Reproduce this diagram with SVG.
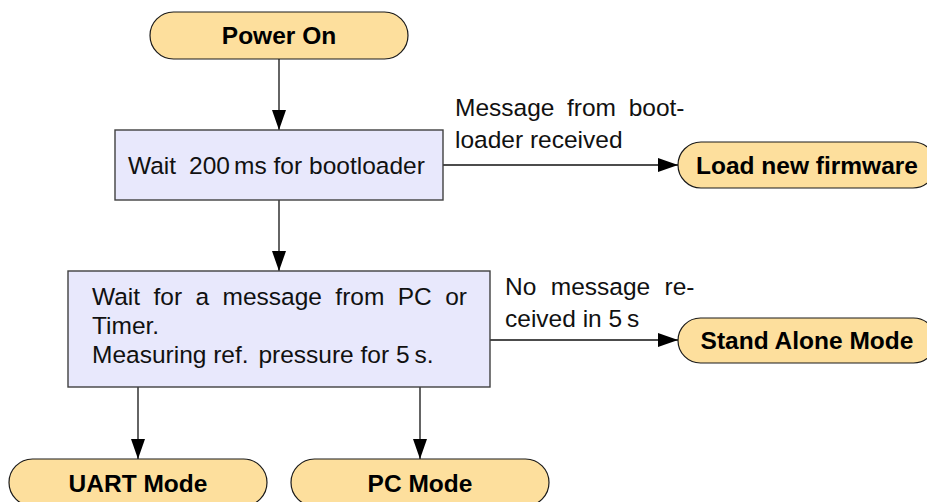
<svg xmlns="http://www.w3.org/2000/svg" width="927" height="502" viewBox="0 0 927 502">
  <style>
    .term { fill: #FDDF9D; stroke: #1a1a1a; stroke-width: 1.2; }
    .proc { fill: #E8E8FC; stroke: #404040; stroke-width: 1.4; }
    .bold { font-family: "Liberation Sans", Arial, sans-serif; font-size: 24.5px; font-weight: bold; fill: #000; text-anchor: middle; }
    .txt { font-family: "Liberation Sans", Arial, sans-serif; font-size: 24.5px; fill: #111; }
    .edge { fill: none; stroke: #111; stroke-width: 1.3; }
  </style>
  <defs>
    <marker id="arrow" markerUnits="userSpaceOnUse" markerWidth="20" markerHeight="14" refX="20" refY="7" orient="auto">
      <path d="M0,0 L20,7 L0,14 z" fill="#000"/>
    </marker>
  </defs>

  <rect width="927" height="502" fill="#fff"/>

  <!-- connectors -->
  <g id="connectors">
    <line class="edge" x1="279" y1="59" x2="279" y2="130" marker-end="url(#arrow)"/>
    <line class="edge" x1="279" y1="200" x2="279" y2="271" marker-end="url(#arrow)"/>
    <line class="edge" x1="443" y1="165" x2="678" y2="165" marker-end="url(#arrow)"/>
    <line class="edge" x1="490" y1="340" x2="678" y2="340" marker-end="url(#arrow)"/>
    <line class="edge" x1="138" y1="387" x2="138" y2="459" marker-end="url(#arrow)"/>
    <line class="edge" x1="420" y1="387" x2="420" y2="459" marker-end="url(#arrow)"/>
    <text class="txt"><tspan x="455" y="116" word-spacing="5.8">Message from boot-</tspan><tspan x="455" y="148">loader received</tspan></text>
    <text class="txt"><tspan x="505" y="295" word-spacing="7.6">No message re-</tspan><tspan x="505" y="327">ceived in 5<tspan dx="-2"> </tspan>s</tspan></text>
  </g>

  <g id="power-on">
    <rect class="term" x="150" y="12" width="258" height="47" rx="23.5"/>
    <text class="bold" x="279" y="44">Power On</text>
  </g>

  <g id="wait-bootloader">
    <rect class="proc" x="115" y="130" width="328" height="70"/>
    <text class="txt" y="174"><tspan x="128">Wait</tspan><tspan x="189">200</tspan><tspan x="234">ms</tspan><tspan x="273.5">for</tspan><tspan x="309">bootloader</tspan></text>
  </g>

  <g id="load-firmware">
    <rect class="term" x="678" y="142" width="258" height="46" rx="23"/>
    <text class="bold" x="807" y="173.5">Load new firmware</text>
  </g>

  <g id="wait-message">
    <rect class="proc" x="68" y="271" width="422" height="116"/>
    <text class="txt"><tspan x="92" y="305" word-spacing="6.6">Wait for a message from PC or</tspan><tspan x="92" y="334">Timer.</tspan><tspan x="92" y="362.5">Measuring ref.<tspan dx="3"> </tspan>pressure for 5<tspan dx="-2"> </tspan>s.</tspan></text>
  </g>

  <g id="stand-alone">
    <rect class="term" x="678" y="318" width="258" height="45" rx="22.5"/>
    <text class="bold" x="807" y="349">Stand Alone Mode</text>
  </g>

  <g id="uart-mode">
    <rect class="term" x="9" y="459" width="258" height="47" rx="23.5"/>
    <text class="bold" x="138" y="491.5">UART Mode</text>
  </g>

  <g id="pc-mode">
    <rect class="term" x="291" y="459" width="258" height="47" rx="23.5"/>
    <text class="bold" x="420" y="491.5">PC Mode</text>
  </g>
</svg>
